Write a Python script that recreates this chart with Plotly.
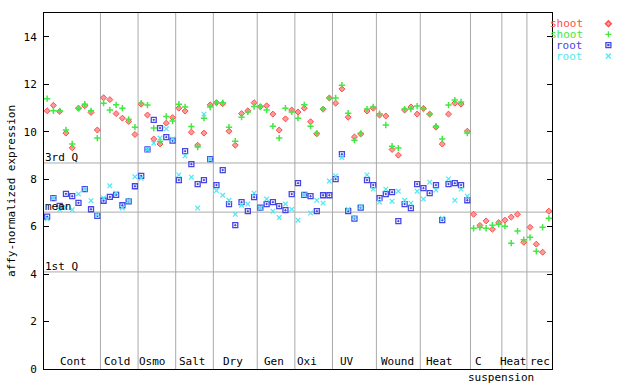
import plotly.graph_objects as go

# ---------------- data ----------------
groups = ["Cont", "Cold", "Osmo", "Salt", "Dry", "Gen", "Oxi", "UV", "Wound",
          "Heat", "C", "Heat", "rec"]
group_sizes = [9, 6, 6, 6, 7, 6, 6, 7, 7, 8, 5, 4, 4]

shoot_rep1 = [10.88, 11.11, 10.85, 9.94, 9.32, 10.99, 11.09, 10.81, 10.07,
              11.43, 11.35, 10.76, 10.57, 10.43, 9.88,
              11.16, 10.70, 9.69, 9.48, 10.36, 10.59,
              10.99, 10.87, 9.98, 9.43, 9.94, 11.13,
              11.22, 11.18, 10.02, 9.43, 10.76, 10.88, 11.22,
              11.05, 11.09, 10.74, 10.07, 10.54, 10.91,
              10.83, 10.99, 10.42, 9.91, 10.95, 11.42,
              11.20, 11.80, 10.61, 9.78, 9.90, 10.87, 10.99,
              10.70, 10.66, 9.25, 9.01, 10.91, 11.04, 10.74,
              10.98, 10.74, 10.19, 9.48, 10.74, 11.20, 11.16, 10.02,
              6.52, 6.05, 6.24, 5.89, 6.17,
              6.27, 6.40, 6.52, 5.34,
              5.97, 5.26, 4.92, 6.65]

shoot_rep2 = [11.39, 10.88, 10.88, 10.07, 9.48, 10.98, 11.16, 10.88, 9.73,
              11.20, 10.91, 11.13, 10.99, 10.52, 10.19,
              11.20, 11.12, 10.15, 9.59, 10.64, 10.45,
              11.16, 11.04, 10.22, 9.35, 10.57, 11.04,
              11.20, 11.22, 10.19, 9.60, 10.61, 10.83, 11.06,
              11.04, 10.91, 10.23, 9.73, 10.99, 10.83,
              10.57, 11.13, 10.23, 9.93, 10.95, 11.42,
              11.42, 11.96, 10.78, 9.64, 9.93, 10.95, 11.04,
              10.76, 10.28, 9.39, 9.31, 10.95, 10.95, 11.08,
              10.95, 10.74, 10.23, 9.69, 11.12, 11.33, 11.25, 9.94,
              5.93, 5.96, 5.93, 6.06, 6.10,
              6.02, 5.30, 5.81, 5.45,
              5.55, 4.96, 5.97, 6.35]

root_rep1 = [6.42, 7.20, 6.87, 7.38, 7.28, 7.00, 7.58, 6.73, 6.45,
             7.09, 7.25, 7.34, 6.90, 7.06, 7.70,
             8.14, 9.25, 10.50, 10.15, 9.77, 9.62,
             7.96, 9.18, 8.63, 7.79, 7.96, 8.84,
             7.75, 8.38, 6.95, 6.06, 7.03, 6.65, 7.24,
             6.80, 6.95, 7.03, 6.86, 6.69, 7.37,
             7.83, 7.34, 7.28, 6.65, 7.32, 7.32,
             8.00, 9.05, 6.65, 6.34, 6.80, 7.96, 7.75,
             7.20, 7.37, 7.45, 6.23, 6.95, 6.78, 7.79,
             7.62, 7.41, 7.75, 6.27, 7.79, 7.83, 7.75, 7.11]

root_rep2 = [6.33, 7.20, 6.71, 6.80, 6.71, 7.38, 7.58, 7.09, 6.50,
             7.21, 7.72, 7.41, 6.78, 7.09, 8.10,
             8.04, 9.25, 9.52, 9.73, 10.12, 9.69,
             8.18, 8.98, 8.08, 6.78, 10.74, 8.84,
             7.52, 7.32, 7.11, 6.52, 6.90, 6.95, 7.41,
             6.78, 7.16, 6.65, 6.38, 6.95, 6.73,
             6.27, 7.34, 6.57, 7.11, 6.99, 7.92,
             8.13, 8.91, 6.73, 6.38, 6.85, 8.18, 7.58,
             7.03, 7.58, 7.07, 7.49, 7.11, 6.99, 7.49,
             7.16, 7.87, 7.54, 6.35, 8.01, 7.11, 7.58, 7.28]

third_quartile = 8.68
mean_value = 6.61
first_quartile = 4.09

# ---------------- styling ----------------
RED = "#ff4c4c"
RED_FILL = "#ff9a9a"
GREEN = "#44e844"
BLUE = "#4646e6"
CYAN = "#50e8f0"
GRID = "#aaaaaa"
FONT = "DejaVu Sans Mono"

n = sum(group_sizes)
xs_shoot = list(range(len(shoot_rep1)))
xs_root = list(range(len(root_rep1)))

fig = go.Figure()

fig.add_trace(go.Scatter(x=xs_shoot, y=shoot_rep1, mode="markers", name="shoot",
                         marker=dict(symbol="diamond", size=4.6, color=RED_FILL,
                                     line=dict(color=RED, width=1))))
fig.add_trace(go.Scatter(x=xs_shoot, y=shoot_rep2, mode="markers", name="shoot",
                         marker=dict(symbol="cross-thin-open", size=4.5, color=GREEN,
                                     line=dict(color=GREEN, width=1.5))))
fig.add_trace(go.Scatter(x=xs_root, y=root_rep1, mode="markers", name="root",
                         marker=dict(symbol="square-open-dot", size=5, color=BLUE,
                                     line=dict(color=BLUE, width=1.3))))
fig.add_trace(go.Scatter(x=xs_root, y=root_rep2, mode="markers", name="root",
                         marker=dict(symbol="x-thin-open", size=4.6, color=CYAN,
                                     line=dict(color=CYAN, width=1.2))))

shapes = []
# group separators
edge = -0.5
for s in group_sizes[:-1]:
    edge += s
    shapes.append(dict(type="line", xref="x", yref="paper", x0=edge, x1=edge,
                       y0=0, y1=1, line=dict(color=GRID, width=1), layer="below"))
# quartile / mean lines
for val in [third_quartile, mean_value, first_quartile]:
    shapes.append(dict(type="line", xref="paper", yref="y", x0=0, x1=1,
                       y0=val, y1=val, line=dict(color=GRID, width=1), layer="below"))

# custom legend: text left, symbol right, outside the plot area
leg_names = ["shoot", "shoot", "root", "root"]
leg_colors = [RED, GREEN, BLUE, CYAN]
leg_y = [0.970, 0.940, 0.910, 0.879]   # paper fractions
leg_text_x = 1.065
leg_sym_x = 1.111
for name, col, yy in zip(leg_names, leg_colors, leg_y):
    fig.add_annotation(x=leg_text_x, y=yy, xref="paper", yref="paper", text=name,
                       showarrow=False, xanchor="right", yanchor="middle",
                       font=dict(family=FONT, size=11, color=col))

def sym_shape(path, col, fill=None):
    d = dict(type="path", xref="paper", yref="paper", xsizemode="pixel",
             ysizemode="pixel", xanchor=leg_sym_x, path=path,
             line=dict(color=col, width=1.3), layer="above")
    if fill:
        d["fillcolor"] = fill
    return d

shapes.append({**sym_shape("M0,-3 L3,0 L0,3 L-3,0 Z", RED, RED_FILL), "yanchor": leg_y[0]})
shapes.append({**sym_shape("M-3,0 L3,0 M0,-3 L0,3", GREEN), "yanchor": leg_y[1]})
shapes.append({**sym_shape("M-2.5,-2.5 L2.5,-2.5 L2.5,2.5 L-2.5,2.5 Z M-0.5,-0.5 L0.5,-0.5 L0.5,0.5 L-0.5,0.5 Z",
                           BLUE), "yanchor": leg_y[2]})
shapes.append({**sym_shape("M-2.5,-2.5 L2.5,2.5 M-2.5,2.5 L2.5,-2.5", CYAN), "yanchor": leg_y[3]})

for txt, val in [("3rd Q", third_quartile), ("mean", mean_value), ("1st Q", first_quartile)]:
    fig.add_annotation(x=0, y=val, xref="paper", yref="y", text=txt, showarrow=False,
                       xanchor="left", yanchor="bottom", xshift=-1, yshift=-3,
                       font=dict(family=FONT, size=11, color="black"))

# group labels (inside plot, above bottom axis)
label_x = [4.24, 11.17, 16.84, 23.13, 29.6, 36.2, 41.4, 47.8, 55.8, 62.5, 68.8, 74.4, 78.6]
for g, lx in zip(groups, label_x):
    fig.add_annotation(x=lx, y=0, xref="x", yref="y", text=g, showarrow=False,
                       xanchor="center", yanchor="bottom", yshift=-1,
                       font=dict(family=FONT, size=11, color="black"))
fig.add_annotation(x=72.3, y=0, xref="x", yref="y", text="suspension", showarrow=False,
                   xanchor="center", yanchor="top", yshift=0,
                   font=dict(family=FONT, size=11, color="black"))

fig.update_layout(
    width=640, height=384,
    margin=dict(l=44, r=88, t=13, b=15, autoexpand=False),
    paper_bgcolor="white", plot_bgcolor="white",
    showlegend=False,
    shapes=shapes,
    font=dict(family=FONT, size=11, color="black"),
    xaxis=dict(range=[-0.5, n - 0.5], showline=True, linecolor="black", linewidth=1,
               mirror=True, showticklabels=False, ticks="", showgrid=False,
               zeroline=False, automargin=False),
    yaxis=dict(range=[0, 15], tickvals=list(range(0, 15, 2)), ticks="inside",
               ticklen=5, tickcolor="black", showline=True, linecolor="black",
               linewidth=1, mirror="ticks", showgrid=False, zeroline=False,
               automargin=False, ticklabelstandoff=4,
               title=dict(text="affy-normalized expression", standoff=5,
                          font=dict(family=FONT, size=11)),
               tickfont=dict(family=FONT, size=11)),
)

fig.write_html("out.html", config={"displayModeBar": False},
               post_script="document.body.style.margin='0';")
